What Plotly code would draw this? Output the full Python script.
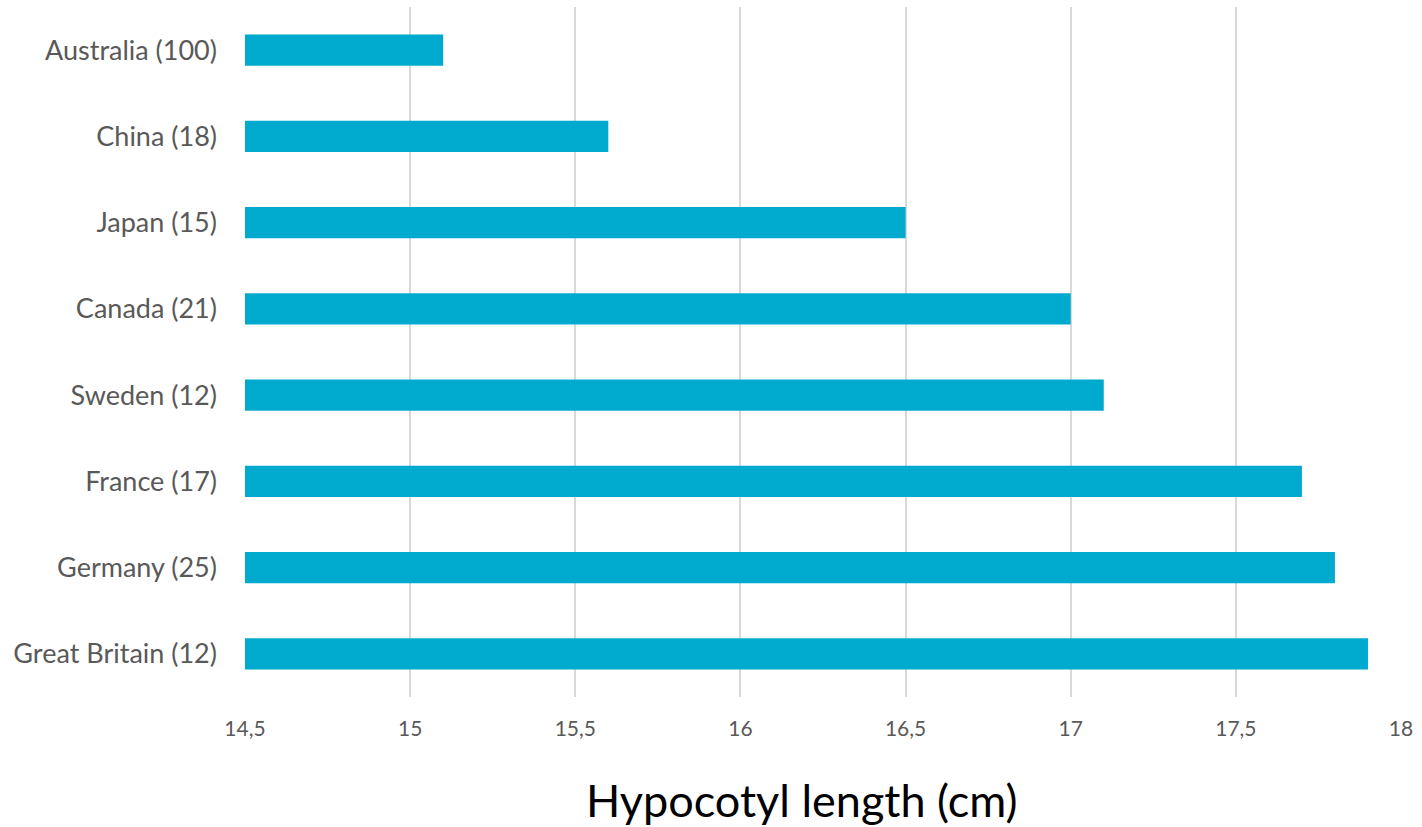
import plotly.graph_objects as go

countries = ["Australia (100)", "China (18)", "Japan (15)", "Canada (21)",
             "Sweden (12)", "France (17)", "Germany (25)", "Great Britain (12)"]
lengths = [15.1, 15.6, 16.5, 17.0, 17.1, 17.7, 17.8, 17.9]
x_ticks = [14.5, 15, 15.5, 16, 16.5, 17, 17.5, 18]
axis_min = 14.5

fig = go.Figure(go.Bar(
    x=[v - axis_min for v in lengths], y=countries, orientation="h",
    base=axis_min,
    marker=dict(color="#00A9CE", line=dict(width=0)),
))

fig.update_layout(
    width=1422, height=827,
    margin=dict(l=245, r=21, t=7, b=130),
    paper_bgcolor="white", plot_bgcolor="white",
    separators=",.",
    bargap=0.64,
    showlegend=False,
    font=dict(family="Lato, Open Sans, sans-serif", color="#595959"),
    xaxis=dict(range=[14.5, 18], tickvals=x_ticks, showgrid=True,
               gridcolor="#D9D9D9", gridwidth=2, zeroline=False,
               showline=False, ticks="", tickfont=dict(size=21, color="#595959"),
               ticklabelstandoff=17),
    yaxis=dict(autorange="reversed", showgrid=False, showline=False, ticks="",
               tickfont=dict(size=27, color="#595959"), ticklabelstandoff=27),
    annotations=[dict(text="Hypocotyl length (cm)", xref="paper", yref="paper",
                      x=0.481, y=-0.149, xanchor="center", yanchor="middle",
                      showarrow=False,
                      font=dict(size=45, color="#000000",
                                family="Lato, Open Sans, sans-serif"))],
)

fig.write_html("out.html", config={"displayModeBar": False},
               post_script="document.body.style.margin='0';document.body.style.overflow='hidden';")
